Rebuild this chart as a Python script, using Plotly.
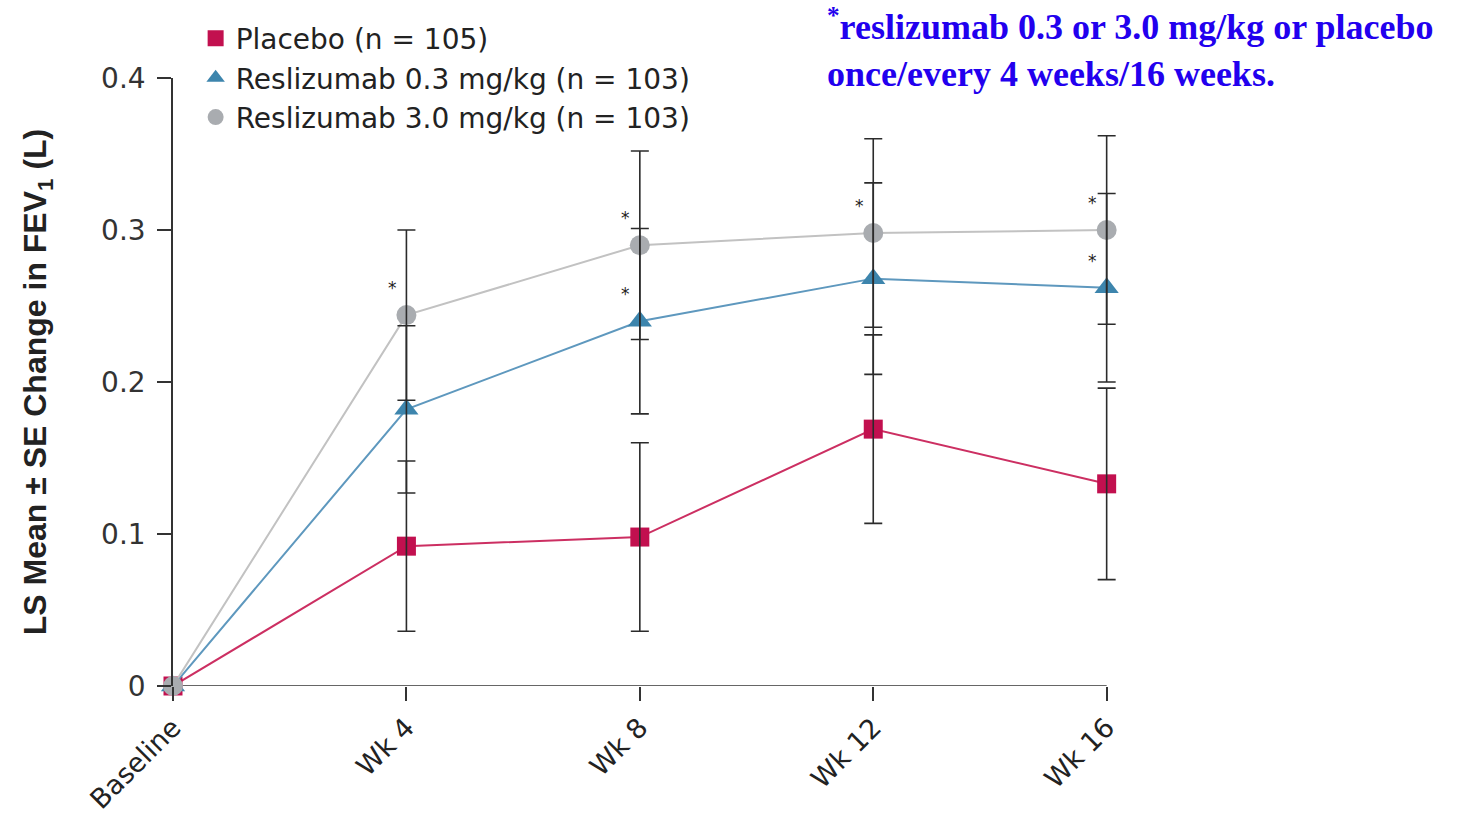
import plotly.graph_objects as go

categories = ["Baseline", "Wk 4", "Wk 8", "Wk 12", "Wk 16"]
x_pos = [0, 1, 2, 3, 4]

series_names = ["Placebo (n = 105)", "Reslizumab 0.3 mg/kg (n = 103)", "Reslizumab 3.0 mg/kg (n = 103)"]
placebo_mean = [0.0, 0.092, 0.098, 0.169, 0.133]
placebo_se = [0.0, 0.056, 0.062, 0.062, 0.063]
resl03_mean = [0.0, 0.182, 0.240, 0.268, 0.262]
resl03_se = [0.0, 0.055, 0.061, 0.063, 0.062]
resl30_mean = [0.0, 0.244, 0.290, 0.298, 0.300]
resl30_se = [0.0, 0.056, 0.062, 0.062, 0.062]
# significance flags (asterisks)
resl03_sig = [False, False, True, False, True]
resl30_sig = [False, True, True, True, True]

y_ticks = [0, 0.1, 0.2, 0.3, 0.4]
y_ticklabels = ["0", "0.1", "0.2", "0.3", "0.4"]

marker_colors = ["#C2104F", "#3D85AD", "#A9ACB0"]
line_colors = ["#CC2F62", "#5E98BE", "#C2C2C2"]
symbols = ["square", "triangle-up", "circle"]
sizes = [19, 21, 20]
legend_sizes = [18, 20, 18]

means = [placebo_mean, resl03_mean, resl30_mean]
ses = [placebo_se, resl03_se, resl30_se]

SANS = "DejaVu Sans, Verdana, sans-serif"

fig = go.Figure()
for name, m, mc, lc, sym, sz in zip(series_names, means, marker_colors, line_colors, symbols, sizes):
    fig.add_trace(go.Scatter(
        x=x_pos, y=m, name=name, mode="lines+markers", showlegend=False,
        line=dict(color=lc, width=2),
        marker=dict(symbol=sym, size=sz, color=mc, line=dict(width=0)),
        cliponaxis=False,
    ))

# legend entries (markers only)
for name, mc, sym, sz in zip(series_names, marker_colors, symbols, legend_sizes):
    fig.add_trace(go.Scatter(
        x=[None], y=[None], name=name, mode="markers",
        marker=dict(symbol=sym, size=sz, color=mc, line=dict(width=0)),
    ))

# error bars drawn on top of markers
for m, s in zip(means, ses):
    fig.add_trace(go.Scatter(
        x=x_pos[1:], y=m[1:], mode="markers", showlegend=False, hoverinfo="skip",
        marker=dict(size=1, color="rgba(0,0,0,0)"),
        error_y=dict(type="data", array=s[1:], color="#2b2b2b", thickness=1.6, width=9),
        cliponaxis=False,
    ))

# asterisks
for m, flags in zip([resl03_mean, resl30_mean], [resl03_sig, resl30_sig]):
    for xi, yi, f in zip(x_pos, m, flags):
        if f:
            fig.add_annotation(x=xi, y=yi, text="*", showarrow=False,
                               xshift=-14, yshift=27,
                               font=dict(family=SANS, size=17, color="#222"))

fig.add_annotation(
    xref="paper", yref="paper", x=0.6915, y=1.129, xanchor="left", yanchor="top",
    text="<b><sup>*</sup>reslizumab 0.3 or 3.0 mg/kg or placebo<br>once/every 4 weeks/16 weeks.</b>",
    showarrow=False, align="left",
    font=dict(family="Liberation Serif, Times New Roman, serif", size=36, color="#2200EE"),
)

# x-axis baseline line (drawn only up to Wk 16)
fig.add_shape(type="line", xref="x", yref="y", x0=x_pos[0], x1=x_pos[-1], y0=0, y1=0,
              line=dict(color="#333", width=1.5), layer="below")

fig.update_layout(
    width=1481, height=814,
    margin=dict(l=173, r=365, t=78, b=128),
    paper_bgcolor="white", plot_bgcolor="white",
    font=dict(family=SANS, color="#333"),
    legend=dict(x=0.024, y=1.106, xanchor="left", yanchor="top",
                font=dict(family=SANS, size=28, color="#222"), bgcolor="rgba(0,0,0,0)",
                itemsizing="trace", tracegroupgap=0),
    xaxis=dict(range=[0, 4.04], tickmode="array", tickvals=x_pos, ticktext=categories,
               tickangle=-45, showgrid=False, zeroline=False, showline=False,
               ticks="outside", ticklen=14, tickwidth=1.5, automargin=False,
               tickcolor="#333", tickfont=dict(family=SANS, size=27, color="#222")),
    yaxis=dict(range=[0, 0.4], tickmode="array", tickvals=y_ticks, ticktext=y_ticklabels,
               showgrid=False, zeroline=False, showline=True, linecolor="#333",
               linewidth=1.5, ticks="outside", ticklen=14, tickwidth=1.5, tickcolor="#333",
               ticklabelstandoff=6, automargin=False,
               tickfont=dict(family=SANS, size=28, color="#333"),
               title=dict(text="<b>LS Mean ± SE Change in FEV<sub>1</sub> (L)</b>",
                          font=dict(family="Liberation Sans, Arial, sans-serif", size=32, color="#222"),
                          standoff=45)),
)

fig.write_html("out.html")
